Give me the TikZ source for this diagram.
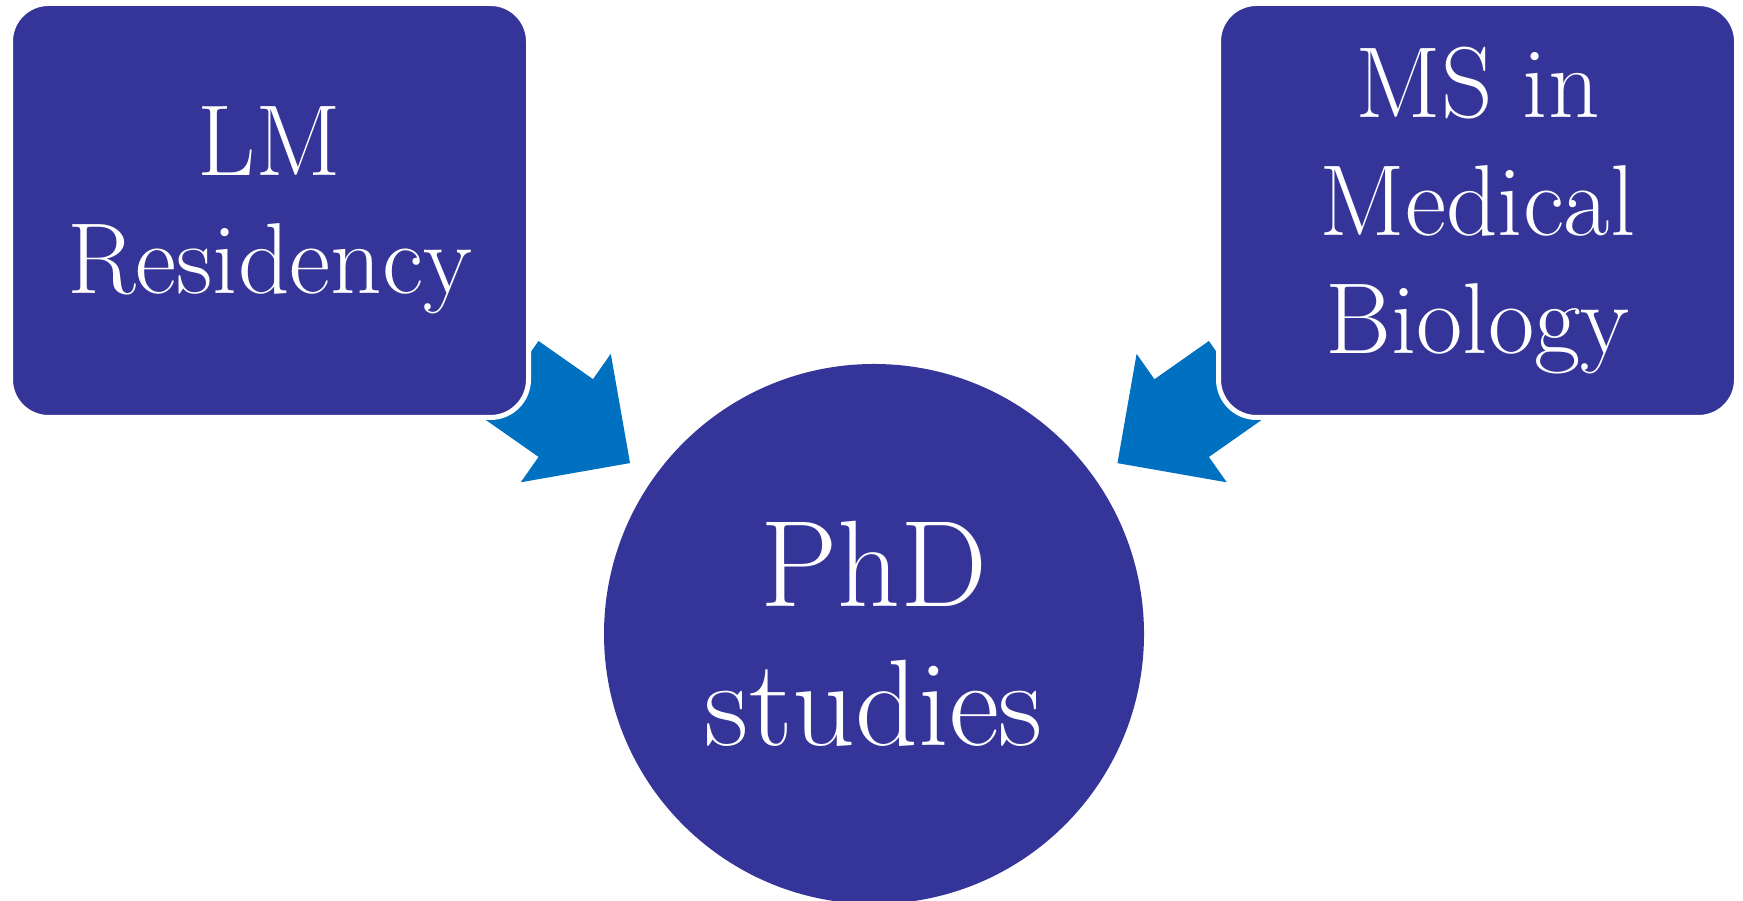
\documentclass[tikz,border=0pt]{standalone}
\usepackage{fontspec}
\usetikzlibrary{shapes.arrows,backgrounds}
\definecolor{boxfill}{RGB}{53,52,153}
\definecolor{arrowfill}{RGB}{0,112,192}
\begin{document}
\begin{tikzpicture}[x=0.1mm,y=0.1mm,
  stage/.style={draw=white,line width=0.5mm,fill=boxfill,text=white,align=center,
    rounded corners=3.8mm,minimum width=51.8mm,minimum height=41.4mm,inner sep=0pt,
    font=\fontsize{28.7}{33.6}\selectfont},
  goal/.style={circle,fill=boxfill,text=white,align=center,minimum size=54mm,inner sep=0pt,
    font=\fontsize{35}{39.5}\selectfont},
  flow/.style={single arrow,fill=arrowfill,draw=none,minimum height=14.5mm,minimum width=15.5mm,
    single arrow head extend=3.1mm,inner xsep=0pt,inner ysep=4.675mm,sloped,anchor=tail}]
  \useasboundingbox (0,0) rectangle (1743,901);
%%
  % Node: lm
  \node[stage] (lm) at (269.5,690.5) {LM\\Residency};
  % Node: ms
  \node[stage] (ms) at (1477.5,690.5) {MS in\\Medical\\Biology};
  % Node: phd
  \node[goal] (phd) at (874,267) {PhD\\studies};
\begin{scope}[on background layer]
  % Edge: lm -> phd
  \path (lm.center) -- (phd.center) node[flow,pos=0.399] (lmflow) {};
  % Edge: ms -> phd
  \path (ms.center) -- (phd.center) node[flow,pos=0.399,allow upside down] (msflow) {};
\end{scope}
%
\end{tikzpicture}
\end{document}
